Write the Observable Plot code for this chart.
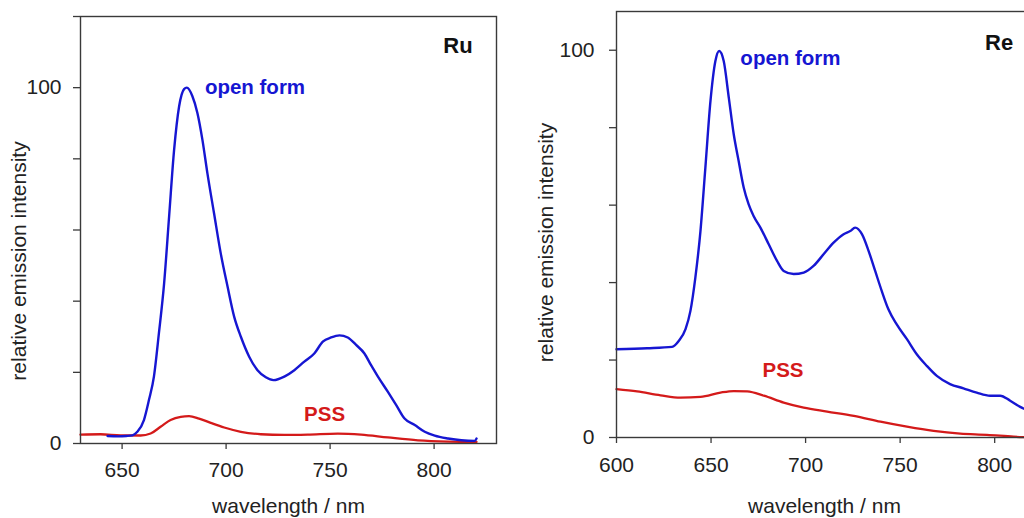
<!DOCTYPE html>
<html><head><meta charset="utf-8">
<script src="https://cdn.jsdelivr.net/npm/d3@7"></script>
<script src="https://cdn.jsdelivr.net/npm/@observablehq/plot@0.6"></script>
<style>
html,body{margin:0;padding:0;background:#fff;overflow:hidden;width:1024px;height:518px}
#wrap{position:relative;width:1024px;height:518px;overflow:hidden}
#left{position:absolute;left:0;top:0;width:520px}
#right{position:absolute;left:520px;top:0;width:540px}
</style></head><body><div id="wrap"><div id="left"></div><div id="right"></div></div>
<script>
// ---- Ru panel ----
const ruOpenWl  = [643,648,652,655,657.3,660.5,662.9,665.3,667.7,670.2,672.6,675,677.4,679.8,681.1,683.8,686.2,688.6,691,694.2,697.4,700.7,703.9,707.1,711.1,715.1,719.1,722.8,728,732.8,737.6,742.4,746.5,750.5,754.5,758.5,762.5,766.5,769.7,773,777.8,781.8,785.8,790.7,795.5,800.3,806.7,813.1,819.6,820.4];
const ruOpenInt = [2.1,2.0,2.1,2.3,3.3,6.6,12.2,18.8,31,45,63.8,82.5,94.7,99.6,100,97.6,92.9,85.4,76,64.7,53.5,44.1,35.6,30,24.4,20.6,18.6,17.8,18.8,20.6,23,25.3,28.6,29.8,30.4,29.8,27.7,25.3,22,18.8,14.5,10.8,7.0,5.2,3.3,2.2,1.4,0.9,0.75,1.4];
const ruPssWl  = [630,639.6,649.3,658.9,663.7,668.5,673.3,678.2,682.2,687,692.6,699.1,707.1,716.7,728,739.2,753.7,764.9,777.8,792.2,806.7,820.4];
const ruPssInt = [2.5,2.6,2.3,2.25,2.8,4.7,6.6,7.5,7.7,7.0,5.8,4.5,3.3,2.6,2.4,2.5,2.8,2.5,1.7,0.9,0.55,0.45];
// ---- Re panel ----
const reOpenWl  = [600,616.2,629.4,632.9,636.5,639.1,641.7,644.4,647,649.7,652.3,654.3,656.7,659.4,662,664.6,667.3,669.9,672.5,676.1,680.5,684.9,688.4,693.7,699,704.2,709.5,714.8,720.1,723.6,726.2,729.8,733.3,736.8,740.3,743.8,748.2,753.6,758.8,764.1,769.4,776.4,783.5,790.5,797.6,802.9,808.2,813.5,820];
const reOpenInt = [22.8,23.05,23.4,24.9,28,32.7,41.3,53.3,69.7,86.9,97.2,99.8,97.2,87.7,78.3,71.4,64.5,60.2,57.2,54.2,49.9,45.6,43,42.2,42.6,44.3,47.3,50.3,52.5,53.3,54.2,52.5,48.2,43,37.8,33.1,29.2,25.4,21.5,18.5,15.9,13.8,12.7,11.6,10.8,10.8,9.5,7.9,6.5];
const rePssWl  = [600,610.9,623.3,633.8,644.4,655,662,669.1,677.9,688.4,699,711.4,725.5,739.6,753.6,767.7,781.8,795.9,810,820];
const rePssInt = [12.5,11.9,10.9,10.3,10.5,11.6,12.0,11.9,10.8,9.0,7.7,6.7,5.6,4.1,2.8,1.7,1.0,0.7,0.2,0];
// ---- annotations: [text, wavelength, intensity, anchor] ----
const ruLabels = [["Ru",818.5,111.8,"end"],["open form",689.8,100,"start"],["PSS",737.5,8.2,"start"]];
const reLabels = [["Re",809.8,101.9,"end"],["open form",665.5,98,"start"],["PSS",677.2,17.2,"start"]];
const xLabel = "wavelength / nm";
const yLabel = "relative emission intensity";

const BLUE = "#1616d2", RED = "#d41a1a";
const FONT = "'Liberation Sans', Arial, Helvetica, sans-serif";
const zip = (xs, ys) => xs.map((x, i) => ({x, y: ys[i]}));

function panel(o) {
  const labs = o.labels.map(([t, x, y, a]) => ({t, x, y, a}));
  const col = t => t === "open form" ? BLUE : t === "PSS" ? RED : "#111";
  const txt = anchor => Plot.text(labs.filter(d => d.a === anchor), {x: "x", y: "y", text: "t", textAnchor: anchor,
    fill: d => col(d.t), fontWeight: "bold", fontSize: d => (d.t === "Ru" || d.t === "Re") ? 22 : 20.5, lineAnchor: "middle"});
  const svg = Plot.plot({
    width: o.width, height: 518,
    marginLeft: o.ml, marginRight: o.mr, marginTop: o.mt, marginBottom: o.mb,
    style: {fontSize: "20px", fontFamily: FONT, color: "#222", background: "transparent", overflow: "visible", maxWidth: "none"},
    x: {domain: o.xd},
    y: {domain: o.yd},
    marks: [
      Plot.line(zip(o.pssWl, o.pssInt), {x: "x", y: "y", stroke: RED, strokeWidth: 2.3, curve: "monotone-x"}),
      Plot.line(zip(o.openWl, o.openInt), {x: "x", y: "y", stroke: BLUE, strokeWidth: 2.4, curve: "monotone-x"}),
      Plot.frame({stroke: "#3a3a3a", strokeWidth: 1.4}),
      Plot.axisX({ticks: o.xt, tickSize: 6, tickPadding: o.xpad, stroke: "#3a3a3a", strokeWidth: 1.3,
        label: xLabel, labelAnchor: "center", labelArrow: "none", labelOffset: o.xlo, fontSize: 21}),
      Plot.axisY({ticks: o.yt, tickSize: 7, tickPadding: o.ypad, stroke: "#3a3a3a", strokeWidth: 1.3,
        tickFormat: d => (d === 0 || d === 100) ? String(d) : "",
        label: yLabel, labelAnchor: "center", labelArrow: "none", labelOffset: o.ylo, fontSize: 21}),
      txt("start"), txt("end")
    ]
  });
  svg.querySelectorAll("text").forEach(t => {
    if (/[→↑←↓]/.test(t.textContent)) t.textContent = t.textContent.replace(/\s*[→↑←↓]\s*/g, "");
  });
  // the y label sits a little below the frame centre in the reference
  const yl = svg.querySelector('g[aria-label="y-axis label"]');
  if (yl) yl.setAttribute("transform", ((yl.getAttribute("transform") || "") + ` translate(0,${o.yshift})`).trim());
  return svg;
}

document.getElementById("left").append(panel({
  width: 520, ml: 80, mr: 24, mt: 16, mb: 75, xd: [630, 830], yd: [0, 120],
  xt: [650, 700, 750, 800], yt: [0, 20, 40, 60, 80, 100, 120],
  xpad: 13, ypad: 12, xlo: 69, ylo: 69, yshift: 31,
  openWl: ruOpenWl, openInt: ruOpenInt, pssWl: ruPssWl, pssInt: ruPssInt, labels: ruLabels
}));
document.getElementById("right").append(panel({
  width: 540, ml: 96, mr: 28, mt: 11, mb: 81, xd: [600, 820], yd: [0, 110],
  xt: [600, 650, 700, 750, 800], yt: [0, 20, 40, 60, 80, 100],
  xpad: 14, ypad: 15, xlo: 75, ylo: 78, yshift: 18,
  openWl: reOpenWl, openInt: reOpenInt, pssWl: rePssWl, pssInt: rePssInt, labels: reLabels
}));
</script></body></html>
